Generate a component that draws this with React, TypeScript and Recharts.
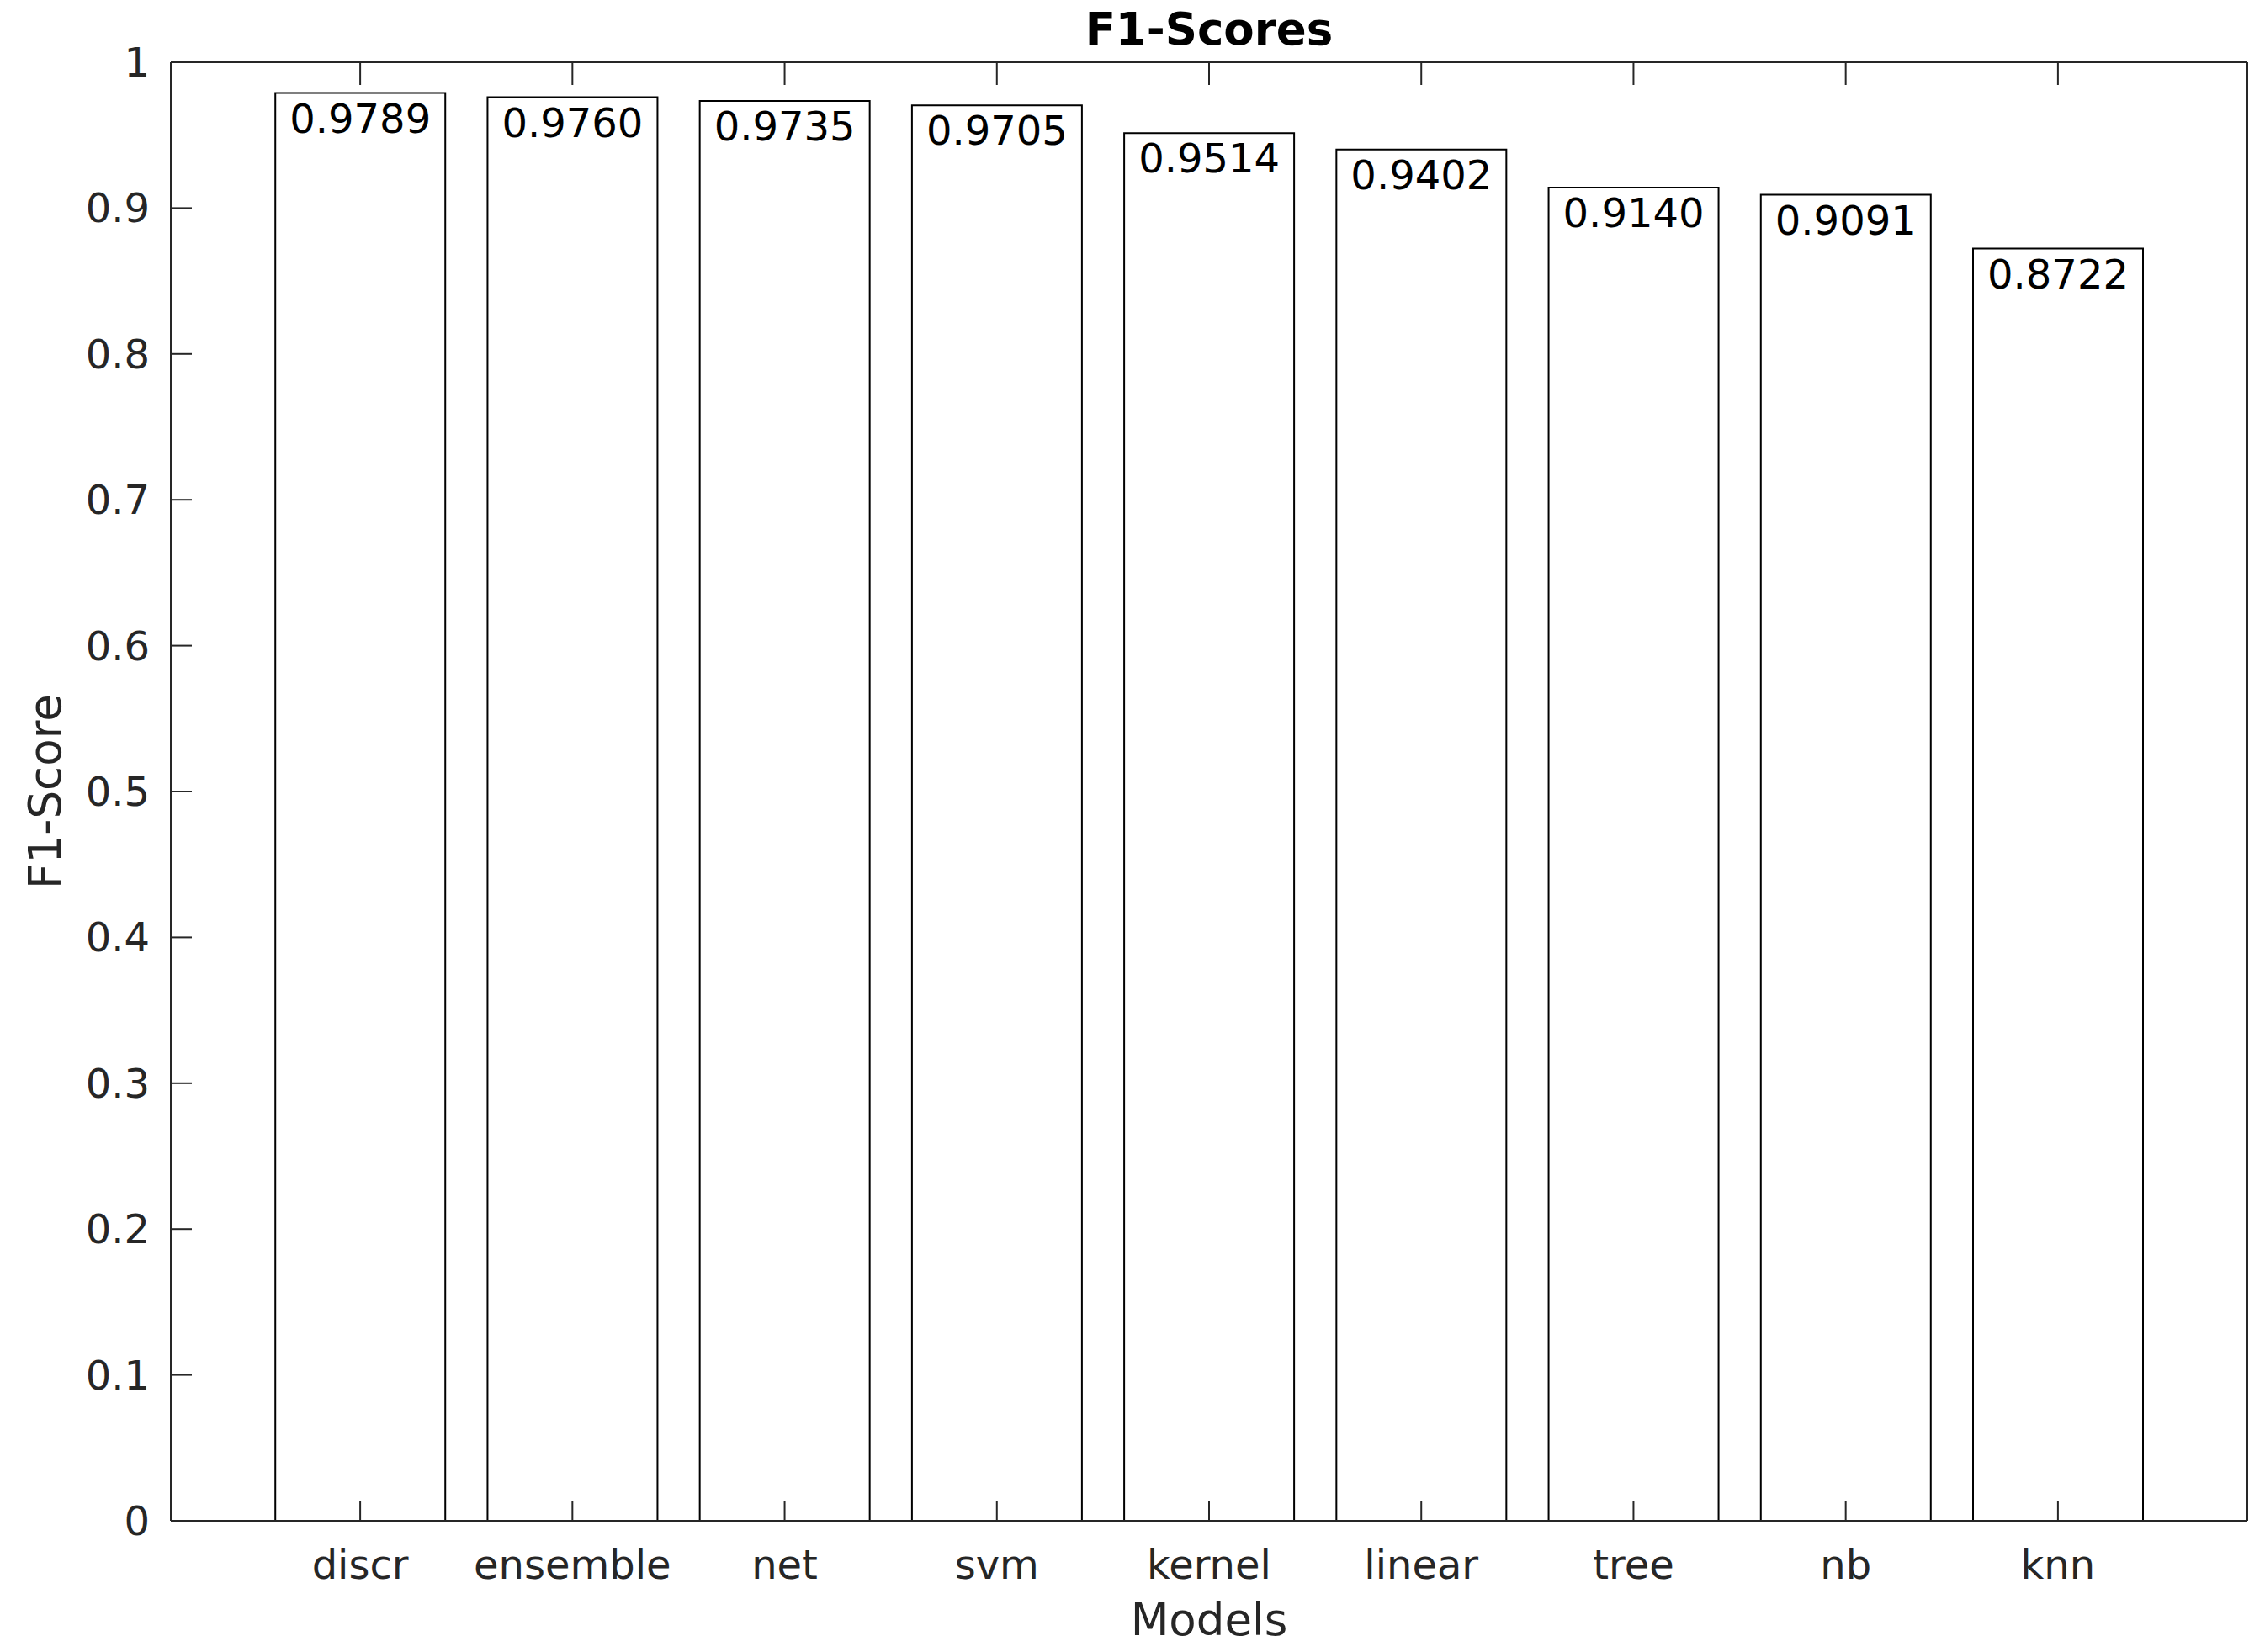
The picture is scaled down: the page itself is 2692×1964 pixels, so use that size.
import { Bar, BarChart, XAxis, YAxis, LabelList, Label } from "recharts";

const models = ["discr", "ensemble", "net", "svm", "kernel", "linear", "tree", "nb", "knn"];
const f1Scores = [0.9789, 0.976, 0.9735, 0.9705, 0.9514, 0.9402, 0.914, 0.9091, 0.8722];
const yTicks = [0, 0.1, 0.2, 0.3, 0.4, 0.5, 0.6, 0.7, 0.8, 0.9, 1];

const FONT = "'DejaVu Sans', sans-serif";
const AXIS = "#262626";

// mirrored axes only need tick marks, not labels
const noLabel = () => <g />;

export default function App() {
  const data = models.map((name, i) => ({ name, f1: f1Scores[i] }));

  return (
    <div style={{ position: "absolute", left: 0, top: 0, background: "#fff" }}>
      <BarChart
        width={2692}
        height={1964}
        data={data}
        margin={{ top: 0, right: 0, left: 0, bottom: 0 }}
        barCategoryGap="10%"
        style={{ fontFamily: FONT }}
      >
        <XAxis
          dataKey="name"
          height={156}
          padding={{ left: 99, right: 99 }}
          axisLine={{ stroke: AXIS, strokeWidth: 2 }}
          tickLine={{ stroke: AXIS, strokeWidth: 2 }}
          tickSize={-24}
          tickMargin={59}
          tick={{ fill: AXIS, fontSize: 48, fontFamily: FONT }}
          interval={0}
        >
          <Label
            value="Models"
            position="insideBottom"
            offset={20}
            style={{ fill: AXIS, fontSize: 53, fontFamily: FONT }}
          />
        </XAxis>
        <XAxis
          xAxisId="top"
          dataKey="name"
          orientation="top"
          height={74}
          padding={{ left: 99, right: 99 }}
          axisLine={{ stroke: AXIS, strokeWidth: 2 }}
          tickLine={{ stroke: AXIS, strokeWidth: 2 }}
          tickSize={-27}
          tick={noLabel}
          interval={0}
        >
          <Label
            value="F1-Scores"
            position="insideTop"
            offset={15}
            style={{ fill: "#000", fontSize: 53, fontWeight: "bold", fontFamily: FONT }}
          />
        </XAxis>
        <YAxis
          width={203}
          domain={[0, 1]}
          ticks={yTicks}
          axisLine={{ stroke: AXIS, strokeWidth: 2 }}
          tickLine={{ stroke: AXIS, strokeWidth: 2 }}
          tickSize={-25}
          tickMargin={50}
          tick={{ fill: AXIS, fontSize: 48, fontFamily: FONT }}
          interval={0}
        >
          <Label
            value="F1-Score"
            angle={-90}
            position="insideLeft"
            offset={53}
            style={{ textAnchor: "middle", fill: AXIS, fontSize: 53, fontFamily: FONT }}
          />
        </YAxis>
        <YAxis
          yAxisId="right"
          orientation="right"
          width={21}
          domain={[0, 1]}
          ticks={yTicks}
          axisLine={{ stroke: AXIS, strokeWidth: 2 }}
          tickLine={{ stroke: AXIS, strokeWidth: 2 }}
          tickSize={-23}
          tick={noLabel}
          interval={0}
        />
        <Bar dataKey="f1" fill="#fff" stroke="#000" strokeWidth={2} isAnimationActive={false}>
          <LabelList
            dataKey="f1"
            position="insideTop"
            offset={13}
            formatter={(v: any) => Number(v).toFixed(4)}
            style={{ fill: "#000", fontSize: 48, fontFamily: FONT }}
          />
        </Bar>
      </BarChart>
    </div>
  );
}
